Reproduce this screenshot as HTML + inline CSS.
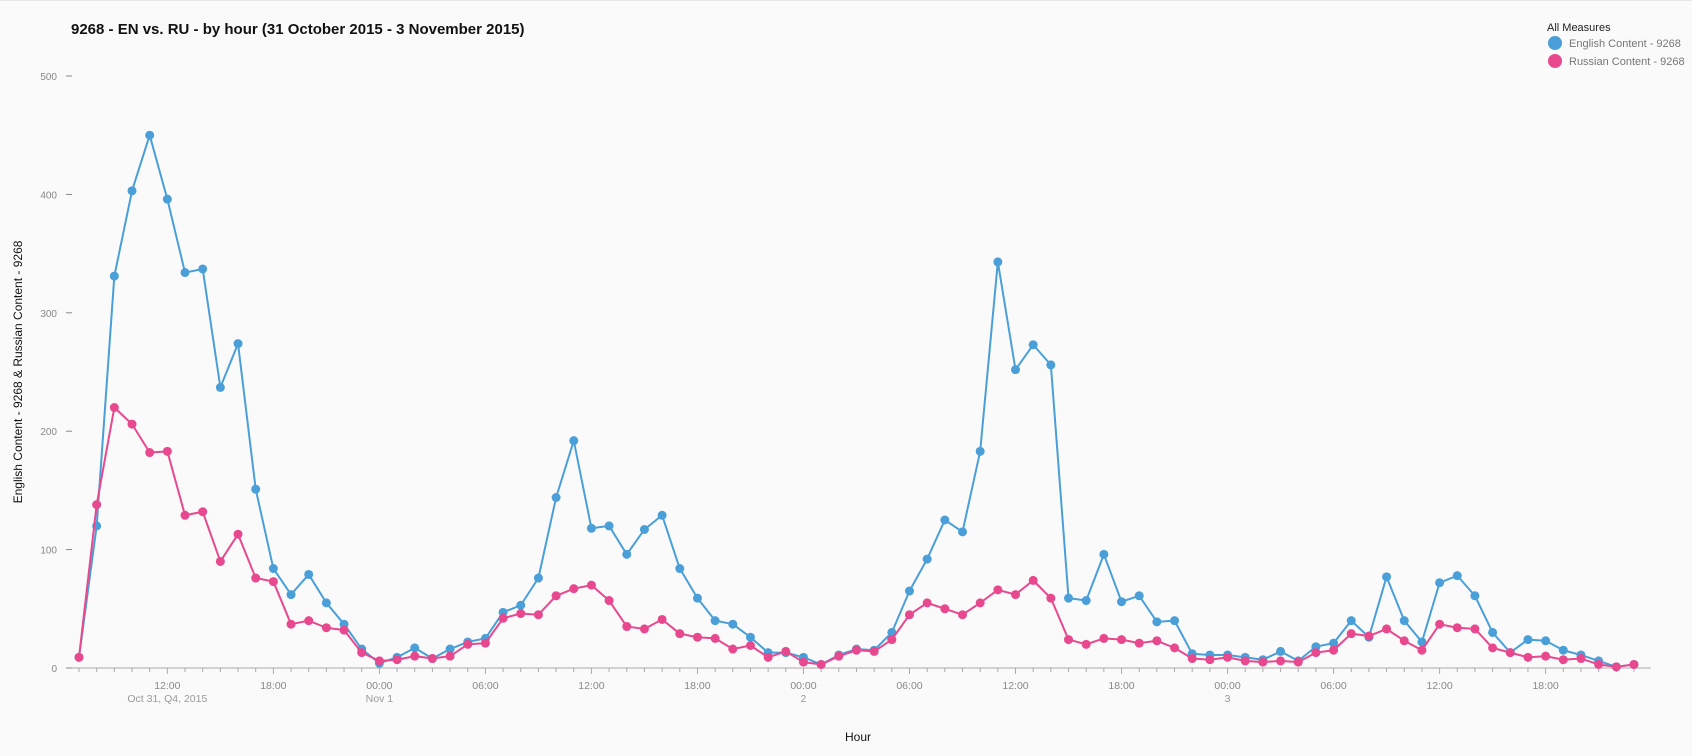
<!DOCTYPE html>
<html><head><meta charset="utf-8"><style>
html,body{margin:0;padding:0;background:#fafafa;}
body{width:1692px;height:756px;overflow:hidden;font-family:"Liberation Sans",Arial,sans-serif;border-top:1px solid #e6e6e6;box-sizing:border-box;}
</style></head><body>
<svg id="chart" width="1692" height="756" xmlns="http://www.w3.org/2000/svg" style="position:absolute;left:0;top:0">
<text x="71" y="34" font-size="15" font-weight="bold" fill="#111">9268 - EN vs. RU - by hour (31 October 2015 - 3 November 2015)</text>
<g>
<text x="1547" y="31" font-size="11" fill="#222">All Measures</text>
<g><circle cx="1555" cy="43" r="7" fill="#4a9fd8"/><text x="1569" y="47" font-size="11" fill="#777">English Content - 9268</text></g>
<g><circle cx="1555" cy="61" r="7" fill="#e8488e"/><text x="1569" y="65" font-size="11" fill="#777">Russian Content - 9268</text></g>
</g>
<text transform="translate(22,372) rotate(-90)" text-anchor="middle" font-size="12" fill="#111">English Content - 9268 &amp; Russian Content - 9268</text>
<text x="858" y="741" text-anchor="middle" font-size="12" fill="#111">Hour</text>
<g id="axes"></g>
<g id="series"></g>
</svg>
<script>
const hourLabels = ["07:00 Oct 31"]; // first point: Oct 31 07:00, hourly
const english = [9,120,331,403,450,396,334,337,237,274,151,84,62,79,55,37,16,
4,9,17,8,16,22,25,47,53,76,144,192,118,120,96,117,129,84,59,40,37,26,13,13,
9,3,11,16,15,30,65,92,125,115,183,343,252,273,256,59,57,96,56,61,39,40,12,11,
11,9,7,14,6,18,21,40,26,77,40,22,72,78,61,30,13,24,23,15,11,6,1,3];
const russian = [9,138,220,206,182,183,129,132,90,113,76,73,37,40,34,32,13,
6,7,10,8,10,20,21,42,46,45,61,67,70,57,35,33,41,29,26,25,16,19,9,14,
5,3,10,15,14,24,45,55,50,45,55,66,62,74,59,24,20,25,24,21,23,17,8,7,
9,6,5,6,5,13,15,29,27,33,23,15,37,34,33,17,13,9,10,7,8,3,1,3];
const yTicks = [0,100,200,300,400,500];
const startHour = 7;
const dayLabels = {0:"Oct 31, Q4, 2015",1:"Nov 1",2:"2",3:"3"};

const NS="http://www.w3.org/2000/svg";
const X0=79, HW=17.67, Y0=668, YS=(668-76)/500;
const xs=i=>X0+i*HW, ys=v=>Y0-v*YS;
function mk(t,a,p){const e=document.createElementNS(NS,t);for(const k in a)e.setAttribute(k,a[k]);p.appendChild(e);return e;}
const axes=document.getElementById('axes'), ser=document.getElementById('series');
const n=english.length;
mk('line',{x1:67,x2:1651,y1:Y0,y2:Y0,stroke:'#aaa','stroke-width':1},axes);
yTicks.forEach(v=>{
 const y=ys(v);
 const t=mk('line',{x1:66,x2:72,y1:y,y2:y,stroke:'#888'},axes);
 
 
 const l=mk('text',{x:57,y:y+4,'text-anchor':'end','font-size':10,fill:'#888'},axes);
 l.textContent=v;
 
 
});
for(let i=0;i<n;i++){
 const x=xs(i), h=(startHour+i)%24, day=Math.floor((startHour+i)/24);
 mk('line',{x1:x,x2:x,y1:Y0,y2:Y0+(h%6===0?6:4),stroke:'#aaa'},axes);
 if(h%6===0){
  const l=mk('text',{x:x,y:689,'text-anchor':'middle','font-size':10.5,fill:'#888'},axes);
  l.textContent=(h<10?'0':'')+h+':00';
  
  
  if(h===12&&day===0||h===0&&day>0){
   const s=mk('text',{x:x,y:702,'text-anchor':'middle','font-size':10.5,fill:'#999'},axes);
   s.textContent=dayLabels[day];
   
   
  }
 }
}
function draw(data,color,name){
 const g=mk('g',{},ser);
 
 
 const p=mk('polyline',{points:data.map((v,i)=>xs(i)+','+ys(v)).join(' '),fill:'none',stroke:color,'stroke-width':2,'stroke-linejoin':'round'},g);
 
 
 data.forEach((v,i)=>{
  const c=mk('circle',{cx:xs(i),cy:ys(v),r:4.5,fill:color},g);
  
  
 });
}
draw(english,'#4a9fd8','english');
draw(russian,'#e8488e','russian');
</script>
</body></html>
